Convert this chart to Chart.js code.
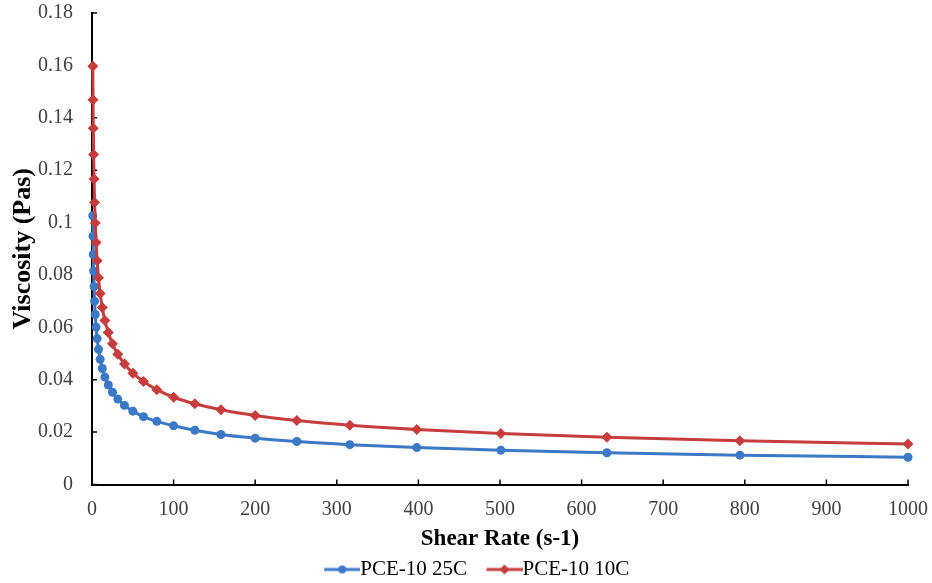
<!DOCTYPE html>
<html>
<head>
<meta charset="utf-8">
<script src="https://cdn.jsdelivr.net/npm/chart.js@4.4.1/dist/chart.umd.min.js"></script>
<style>
  html, body { margin: 0; padding: 0; background: #fff; }
  #wrap { width: 932px; height: 583px; position: relative; }
</style>
</head>
<body>
<div id="wrap"><canvas id="viscChart"></canvas></div>
<script>
// Shear rate points (log spaced, 10 per decade)
const shearRate = [1, 1.26, 1.58, 2, 2.51, 3.16, 3.98, 5.01, 6.31, 7.94,
    10, 12.6, 15.8, 20, 25.1, 31.6, 39.8, 50.1, 63.1, 79.4,
    100, 126, 158, 200, 251, 316, 398, 501, 631, 794, 1000];

// Viscosity (Pas)
const visc25C = [0.1026, 0.0948, 0.0878, 0.0815, 0.0756, 0.0700, 0.0649, 0.0601, 0.0557, 0.0516,
    0.0478, 0.0443, 0.0410, 0.0380, 0.0352, 0.0326, 0.0302, 0.0280, 0.0259, 0.0241,
    0.0224, 0.0207, 0.0191, 0.0177, 0.0164, 0.0152, 0.0141, 0.0131, 0.0121, 0.0112, 0.0104];

const visc10C = [0.1597, 0.1469, 0.1360, 0.1260, 0.1166, 0.1077, 0.0998, 0.0924, 0.0854, 0.0789,
    0.0729, 0.0676, 0.0626, 0.0580, 0.0537, 0.0497, 0.0460, 0.0425, 0.0393, 0.0362,
    0.0333, 0.0308, 0.0285, 0.0263, 0.0244, 0.0226, 0.0210, 0.0195, 0.0180, 0.0167, 0.0155];

const seriesNames = ['PCE-10 25C', 'PCE-10 10C'];
const xTicks = [0, 100, 200, 300, 400, 500, 600, 700, 800, 900, 1000];
const yTicks = [0, 0.02, 0.04, 0.06, 0.08, 0.1, 0.12, 0.14, 0.16, 0.18];

const BLUE = '#3b78c6';
const RED = '#c73c3c';
const SERIF = "'Liberation Serif', 'Times New Roman', serif";

function toPoints(ys) {
    return shearRate.map((x, i) => ({ x: x, y: ys[i] }));
}

// legend symbol: short line with marker, drawn right-aligned in a wider canvas
function legendSymbol(color, shape) {
    const c = document.createElement('canvas');
    c.width = 56;
    c.height = 14;
    const g = c.getContext('2d');
    g.strokeStyle = color;
    g.fillStyle = color;
    g.lineWidth = 3;
    g.beginPath();
    g.moveTo(20, 7);
    g.lineTo(56, 7);
    g.stroke();
    g.beginPath();
    if (shape === 'circle') {
        g.arc(38, 7, 4, 0, Math.PI * 2);
    } else {
        g.moveTo(38, 2); g.lineTo(43, 7); g.lineTo(38, 12); g.lineTo(33, 7);
        g.closePath();
    }
    g.fill();
    return c;
}

// Excel style tick marks pointing into the plot
const insideTicks = {
    id: 'insideTicks',
    beforeDatasetsDraw(chart) {
        const { ctx, chartArea, scales } = chart;
        ctx.save();
        ctx.strokeStyle = '#000';
        ctx.lineWidth = 1.5;
        ctx.beginPath();
        scales.x.ticks.forEach(t => {
            const px = scales.x.getPixelForValue(t.value);
            ctx.moveTo(px, chartArea.bottom);
            ctx.lineTo(px, chartArea.bottom - 5);
        });
        scales.y.ticks.forEach(t => {
            const py = scales.y.getPixelForValue(t.value);
            ctx.moveTo(chartArea.left, py);
            ctx.lineTo(chartArea.left + 5, py);
        });
        ctx.stroke();
        ctx.restore();
    }
};

// nudge the legend a bit to the right like in the original
const legendShift = {
    id: 'legendShift',
    afterLayout(chart) {
        if (chart.legend) {
            chart.legend.left += 18;
            chart.legend.right += 18;
        }
    }
};

const symbols = [legendSymbol(BLUE, 'circle'), legendSymbol(RED, 'diamond')];

new Chart(document.getElementById('viscChart'), {
    type: 'line',
    data: {
        datasets: [{
            label: seriesNames[0],
            data: toPoints(visc25C),
            borderColor: BLUE,
            backgroundColor: BLUE,
            borderWidth: 3,
            pointStyle: 'circle',
            pointRadius: 4.5,
            pointBorderWidth: 0,
            cubicInterpolationMode: 'monotone',
            clip: false,
            order: 2
        }, {
            label: seriesNames[1],
            data: toPoints(visc10C),
            borderColor: RED,
            backgroundColor: RED,
            borderWidth: 3,
            pointStyle: 'rectRot',
            pointRadius: 5.5,
            pointBorderWidth: 0,
            cubicInterpolationMode: 'monotone',
            clip: false,
            order: 1
        }]
    },
    options: {
        responsive: true,
        maintainAspectRatio: false,
        animation: false,
        layout: {
            padding: { left: 0, right: 24, top: 13, bottom: -7 }
        },
        plugins: {
            tooltip: { enabled: false },
            legend: {
                position: 'bottom',
                labels: {
                    usePointStyle: true,
                    pointStyleWidth: 35,
                    padding: 10,
                    color: '#000',
                    font: { family: SERIF, size: 21 },
                    generateLabels: function() {
                        return seriesNames.map((name, i) => ({
                            text: name,
                            fontColor: '#000',
                            pointStyle: symbols[i],
                            datasetIndex: i,
                            hidden: false,
                            lineWidth: 0
                        }));
                    }
                }
            }
        },
        scales: {
            x: {
                type: 'linear',
                min: 0,
                max: 1000,
                afterBuildTicks: function(scale) {
                    scale.ticks = xTicks.map(v => ({ value: v }));
                },
                afterFit: function(scale) {
                    scale.height = 64.5;
                },
                // invisible tick marks only used as label spacing
                grid: { display: true, drawOnChartArea: false, drawTicks: true, tickLength: 13, color: 'rgba(0,0,0,0)' },
                border: { display: true, color: '#000', width: 2 },
                ticks: {
                    color: '#404040',
                    padding: 0,
                    maxRotation: 0,
                    autoSkip: false,
                    font: { family: SERIF, size: 20 },
                    callback: function(value) { return String(value); }
                },
                title: {
                    display: true,
                    text: 'Shear Rate (s-1)',
                    color: '#000',
                    padding: { top: 0, bottom: -4 },
                    font: { family: SERIF, size: 23, weight: 'bold' }
                }
            },
            y: {
                type: 'linear',
                min: 0,
                max: 0.18,
                afterBuildTicks: function(scale) {
                    scale.ticks = yTicks.map(v => ({ value: v }));
                },
                afterFit: function(scale) {
                    scale.width = 92;
                },
                grid: { display: true, drawOnChartArea: false, drawTicks: true, tickLength: 19, color: 'rgba(0,0,0,0)' },
                border: { display: true, color: '#000', width: 2 },
                ticks: {
                    color: '#404040',
                    padding: 0,
                    autoSkip: false,
                    font: { family: SERIF, size: 20 },
                    callback: function(value) { return String(parseFloat(value.toFixed(2))); }
                },
                title: {
                    display: true,
                    text: 'Viscosity (Pas)',
                    color: '#000',
                    padding: { top: 8, bottom: 0 },
                    font: { family: SERIF, size: 26, weight: 'bold' }
                }
            }
        }
    },
    plugins: [insideTicks, legendShift]
});
</script>
</body>
</html>
